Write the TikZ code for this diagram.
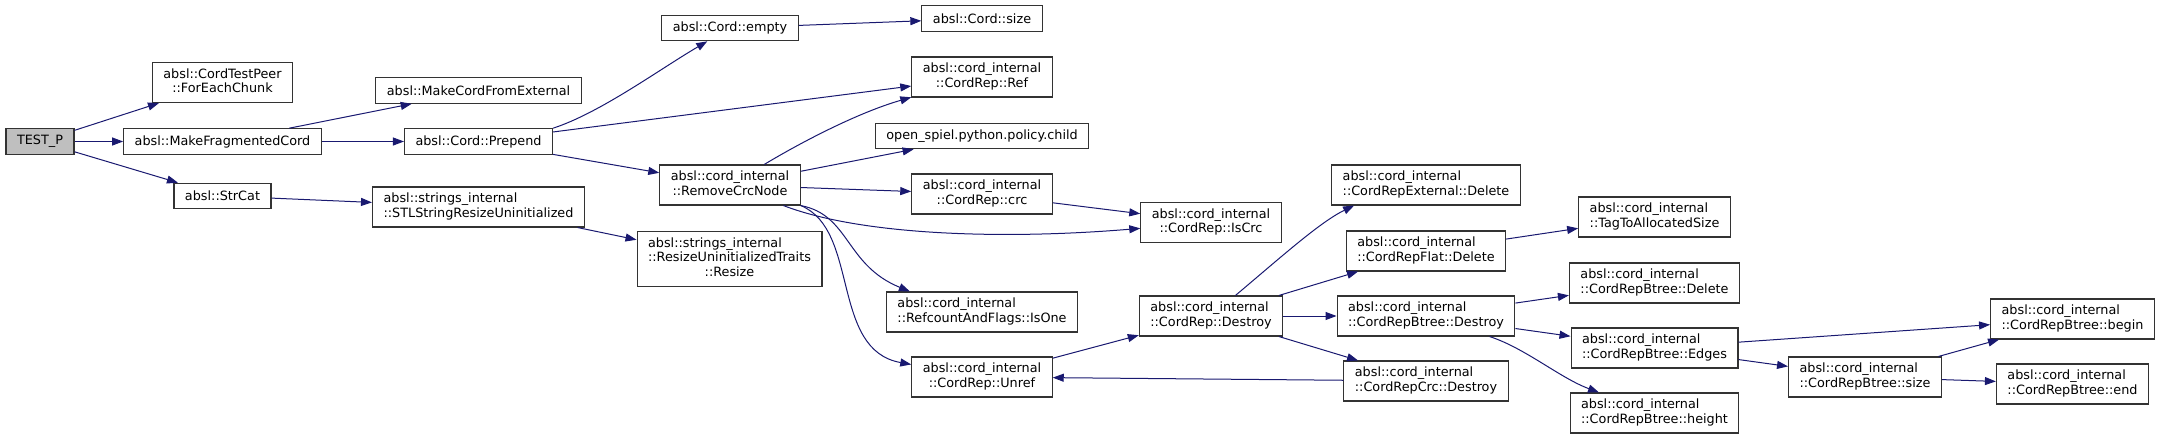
\documentclass[tikz,border=0pt]{standalone}
\usepackage{fontspec}
\setmainfont{DejaVu Sans}
\usepackage{xcolor}
\usetikzlibrary{arrows.meta}
\definecolor{dxnavy}{HTML}{191970}
\definecolor{dxgrey}{HTML}{BFBFBF}
\definecolor{dxline}{HTML}{333333}
\newcommand{\twol}[2]{\begin{tabular}{@{}l@{}}#1\\\multicolumn{1}{@{}c@{}}{#2}\end{tabular}}
\newcommand{\threel}[3]{\begin{tabular}{@{}l@{}}#1\\#2\\\multicolumn{1}{@{}c@{}}{#3}\end{tabular}}

\begin{document}
\begin{tikzpicture}[x=1pt, y=-1pt,
  fn/.style={draw=dxline, line width=1.1pt, fill=white, inner xsep=11pt, inner ysep=0pt, minimum height=25.5pt, font={\fontsize{12.8}{14.3}\selectfont}},
  fn2/.style={fn, minimum height=40pt},
  fn3/.style={fn, minimum height=55pt},
  call/.style={draw=dxnavy, line width=1pt, -{Triangle[length=11pt, width=8pt]}}]
  \useasboundingbox (0,0) rectangle (2160,439);
  \node[fn, fill=dxgrey] (testp) at (40,141.5) {TEST\_P};
  \node[fn2] (foreach) at (222.5,82.5) {\twol{absl::CordTestPeer}{::ForEachChunk}};
  \node[fn] (mkfrag) at (222.5,141.5) {absl::MakeFragmentedCord};
  \node[fn] (strcat) at (222.5,196) {absl::StrCat};
  \node[fn] (mkext) at (478.5,90.5) {absl::MakeCordFromExternal};
  \node[fn] (prepend) at (478.5,141.5) {absl::Cord::Prepend};
  \node[fn2] (stlresize) at (478.5,207) {\twol{absl::strings\_internal}{::STLStringResizeUninitialized}};
  \node[fn3] (resize) at (729.5,259) {\threel{absl::strings\_internal}{::ResizeUninitializedTraits}{::Resize}};
  \node[fn] (empty) at (730,28) {absl::Cord::empty};
  \node[fn] (cordsize) at (982,18.5) {absl::Cord::size};
  \node[fn2] (ref) at (982,77) {\twol{absl::cord\_internal}{::CordRep::Ref}};
  \node[fn] (child) at (982,136) {open\_spiel.python.policy.child};
  \node[fn2] (rmcrc) at (730,185) {\twol{absl::cord\_internal}{::RemoveCrcNode}};
  \node[fn2] (crc) at (982,194) {\twol{absl::cord\_internal}{::CordRep::crc}};
  \node[fn2] (iscrc) at (1211,222.5) {\twol{absl::cord\_internal}{::CordRep::IsCrc}};
  \node[fn2] (isone) at (982,312) {\twol{absl::cord\_internal}{::RefcountAndFlags::IsOne}};
  \node[fn2] (unref) at (982,377) {\twol{absl::cord\_internal}{::CordRep::Unref}};
  \node[fn2] (destroy) at (1211,316) {\twol{absl::cord\_internal}{::CordRep::Destroy}};
  \node[fn2] (extdel) at (1426,185) {\twol{absl::cord\_internal}{::CordRepExternal::Delete}};
  \node[fn2] (flatdel) at (1426,251) {\twol{absl::cord\_internal}{::CordRepFlat::Delete}};
  \node[fn2] (btdestroy) at (1426,316) {\twol{absl::cord\_internal}{::CordRepBtree::Destroy}};
  \node[fn2] (crcdestroy) at (1426,381) {\twol{absl::cord\_internal}{::CordRepCrc::Destroy}};
  \node[fn2] (tagsize) at (1654.5,217) {\twol{absl::cord\_internal}{::TagToAllocatedSize}};
  \node[fn2] (btdelete) at (1654.5,283) {\twol{absl::cord\_internal}{::CordRepBtree::Delete}};
  \node[fn2] (edges) at (1654.5,348) {\twol{absl::cord\_internal}{::CordRepBtree::Edges}};
  \node[fn2] (btheight) at (1654.5,413) {\twol{absl::cord\_internal}{::CordRepBtree::height}};
  \node[fn2] (btsize) at (1865,377) {\twol{absl::cord\_internal}{::CordRepBtree::size}};
  \node[fn2] (btbegin) at (2072.5,319) {\twol{absl::cord\_internal}{::CordRepBtree::begin}};
  \node[fn2] (btend) at (2072.5,384) {\twol{absl::cord\_internal}{::CordRepBtree::end}};
  \draw[call] (testp) -- (foreach);
  \draw[call] (testp) -- (mkfrag);
  \draw[call] (testp) -- (strcat);
  \draw[call] (mkfrag) -- (mkext);
  \draw[call] (mkfrag) -- (prepend);
  \draw[call] (strcat) -- (stlresize);
  \draw[call] (stlresize) -- (resize);
  \draw[call] (prepend.north east) .. controls (600,113) and (660,69) .. (empty);
  \draw[call] (prepend) -- (ref);
  \draw[call] (prepend) -- (rmcrc);
  \draw[call] (empty) -- (cordsize);
  \draw[call] (rmcrc) .. controls (805,140) and (860,112) .. (ref);
  \draw[call] (rmcrc) -- (child);
  \draw[call] (rmcrc) -- (crc);
  \draw[call] (rmcrc) .. controls (860,235) and (1000,240) .. (iscrc);
  \draw[call] (rmcrc.south east) .. controls (850,215) and (845,265) .. ([xshift=24pt]isone.north west);
  \draw[call] (rmcrc.south east) .. controls (860,230) and (830,350) .. (unref);
  \draw[call] (crc) -- (iscrc);
  \draw[call] (unref) -- (destroy);
  \draw[call] (destroy) .. controls (1280,258) and (1320,222) .. ([xshift=23pt]extdel.south west);
  \draw[call] (destroy) -- (flatdel);
  \draw[call] (destroy) -- (btdestroy);
  \draw[call] (destroy) -- (crcdestroy);
  \draw[call] (crcdestroy) -- (unref);
  \draw[call] (flatdel) -- (tagsize);
  \draw[call] (btdestroy) -- (btdelete);
  \draw[call] (btdestroy) -- (edges);
  \draw[call] (btdestroy) .. controls (1525,348) and (1560,378) .. (btheight);
  \draw[call] (edges) -- (btbegin);
  \draw[call] (edges) -- (btsize);
  \draw[call] (btsize) -- (btbegin);
  \draw[call] (btsize) -- (btend);
\end{tikzpicture}
\end{document}
